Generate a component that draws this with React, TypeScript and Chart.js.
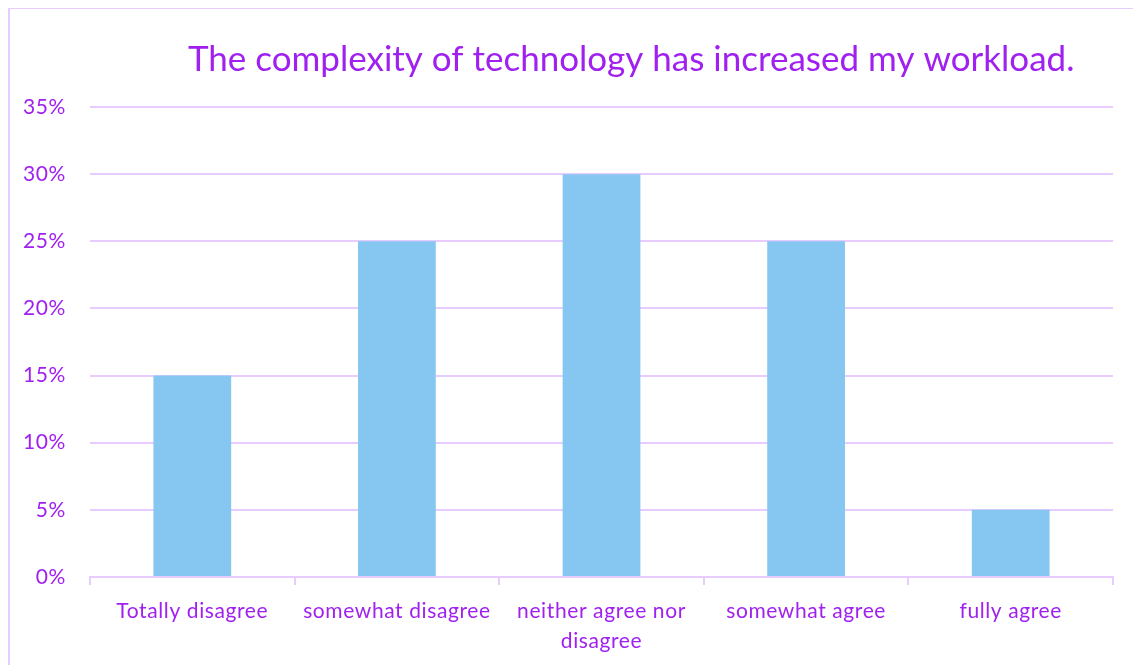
import React, { useEffect, useRef } from "react";
import { Chart, registerables } from "chart.js";

Chart.register(...registerables);

const TITLE = "The complexity of technology has increased my workload.";
const CATEGORIES: (string | string[])[] = [
  "Totally disagree",
  "somewhat disagree",
  ["neither agree nor", "disagree"],
  "somewhat agree",
  "fully agree",
];
const VALUES = [0.15, 0.25, 0.3, 0.25, 0.05];
const Y_MAX = 0.35;
const Y_STEP = 0.05;

const PURPLE = "#A020F0";
const GRID = "#E8CCFF";
const BAR = "#85C7F0";
const FONT = "Lato, 'Noto Sans', sans-serif";

const spacingPlugin = {
  id: "spacing",
  beforeLayout(chart: any) {
    chart.ctx.letterSpacing = "0.6px";
  },
  beforeDraw(chart: any) {
    chart.ctx.letterSpacing = "0.6px";
  },
};

const titlePlugin = {
  id: "customTitle",
  afterDraw(chart: any) {
    const ctx = chart.ctx;
    ctx.save();
    ctx.letterSpacing = "0px";
    ctx.fillStyle = PURPLE;
    ctx.font = `35px ${FONT}`;
    ctx.textAlign = "center";
    ctx.textBaseline = "middle";
    const x = chart.chartArea.left + (chart.chartArea.right - chart.chartArea.left) * 0.529;
    ctx.fillText(TITLE, x, chart.chartArea.top - 47);
    ctx.restore();
  },
};

export default function App() {
  const ref = useRef<HTMLCanvasElement | null>(null);
  useEffect(() => {
    if (!ref.current) return;
    const chart = new Chart(ref.current, {
      type: "bar",
      data: {
        labels: CATEGORIES,
        datasets: [
          {
            data: VALUES,
            backgroundColor: BAR,
            borderWidth: 0,
            categoryPercentage: 1,
            barPercentage: 0.38,
          },
        ],
      },
      plugins: [spacingPlugin, titlePlugin],
      options: {
        animation: false,
        responsive: false,
        layout: { padding: { top: 98, right: 28, left: 0, bottom: 0 } },
        plugins: {
          legend: { display: false },
          tooltip: { enabled: false },
          title: { display: false },
        },
        scales: {
          x: {
            grid: {
              display: true,
              drawOnChartArea: false,
              drawTicks: true,
              tickLength: 8,
              color: GRID,
              lineWidth: 2,
            },
            border: { display: true, color: GRID, width: 2 },
            ticks: {
              color: PURPLE,
              font: { family: FONT, size: 21, lineHeight: 1.4 },
              padding: 12,
              maxRotation: 0,
              autoSkip: false,
            },
            afterFit: (s: any) => {
              s.height = 87;
            },
          },
          y: {
            min: 0,
            max: Y_MAX,
            grid: { color: GRID, lineWidth: 2, drawTicks: false },
            border: { display: false },
            ticks: {
              stepSize: Y_STEP,
              color: PURPLE,
              font: { family: FONT, size: 21 },
              padding: 24,
              callback: (v: any) => `${Math.round(Number(v) * 100)}%`,
            },
            afterFit: (s: any) => {
              s.width = 80;
            },
          },
        },
      },
    });
    return () => chart.destroy();
  }, []);
  return (
    <div
      style={{
        width: 1140,
        height: 660,
        borderLeft: `2px solid ${GRID}`,
        borderTop: `2px solid ${GRID}`,
        marginTop: -1,
        background: "#fff",
        boxSizing: "border-box",
      }}
    >
      <canvas ref={ref} width={1131} height={655} style={{ display: "block" }} />
    </div>
  );
}
